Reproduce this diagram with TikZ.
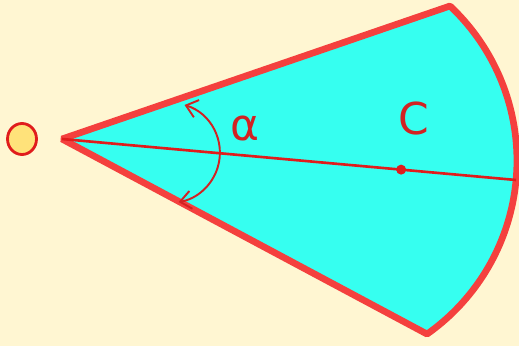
\documentclass[tikz,border=0pt]{standalone}
\usepackage{fontspec}
\setmainfont{DejaVu Sans}
\usepackage{xcolor}
\usetikzlibrary{arrows.meta,shapes.geometric}
\definecolor{SecBack}{HTML}{FFF6D2}
\definecolor{SecCyan}{HTML}{36FFF0}
\definecolor{SecRim}{HTML}{F4403E}
\definecolor{SecAxis}{HTML}{E01C1C}
\definecolor{SecText}{HTML}{D22222}
\definecolor{SecYellow}{HTML}{FFE27A}

\begin{document}
\begin{tikzpicture}[x=1cm,y=1cm,
  rim/.style={draw=SecRim,line width=3.8pt,line join=bevel},
  axisline/.style={SecAxis,line width=1.5pt},
  anglearrow/.style={SecText,line width=1.1pt,{Straight Barb[length=2.2mm,width=3.6mm]}-{Straight Barb[length=2.2mm,width=3.6mm]}},
  biglabel/.style={text=SecText,font=\fontsize{25}{28}\selectfont,inner sep=0pt}]
\path[use as bounding box] (0,0) rectangle (10.38,6.92);
\fill[SecBack] (0,0) rectangle (10.38,6.92);
% sector
\coordinate (apex) at (1.24,4.14);
\coordinate (top) at (9.00,6.80);
\coordinate (rimmid) at (10.32,3.32);
\filldraw[rim,fill=SecCyan] (apex) -- (top) arc[start angle=46.8,end angle=-54.8,radius=4.244] -- cycle;
% axis through the centroid
\draw[axisline] (apex) -- (rimmid) node[pos=0.747,circle,fill=SecAxis,inner sep=0pt,minimum size=0.2cm] (cdot) {};
% angle
\draw[anglearrow] (3.69,4.82) arc[start angle=73,end angle=-80,radius=1.0];
\node[biglabel] (alpha) at (4.90,4.36) {α};
\node[biglabel] (clabel) at (8.28,4.54) {C};
% origin point
\node[ellipse,draw=SecAxis,line width=1.6pt,fill=SecYellow,minimum width=0.58cm,minimum height=0.62cm,inner sep=0pt] (origin) at (0.44,4.14) {};
\end{tikzpicture}
\end{document}
